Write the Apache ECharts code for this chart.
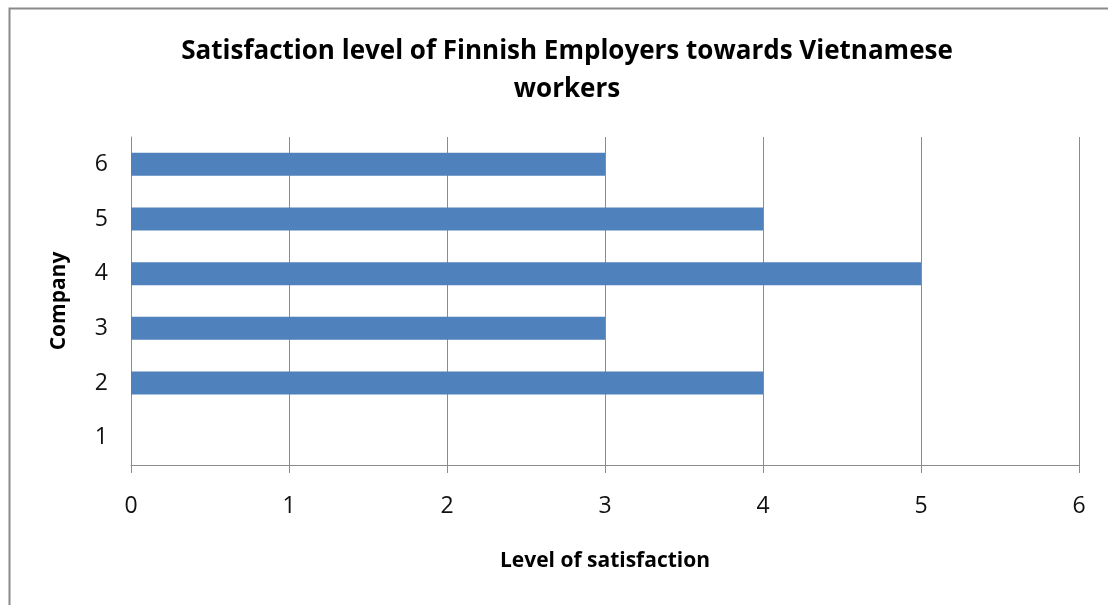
<!DOCTYPE html>
<html>
<head>
<meta charset="utf-8">
<script src="https://cdn.jsdelivr.net/npm/echarts@6/dist/echarts.min.js"></script>
<style>
  html, body { margin: 0; padding: 0; background: #fff; }
  #chart { width: 1108px; height: 605px; }
</style>
</head>
<body>
<div id="chart"></div>
<script>
// Companies surveyed and their satisfaction scores
const companies = ['1', '2', '3', '4', '5', '6'];
const satisfaction = [0, 4, 3, 5, 4, 3];
const levelTicks = [0, 1, 2, 3, 4, 5, 6];

const titleText = 'Satisfaction level of Finnish Employers towards Vietnamese\nworkers';
const fontFamily = '"Open Sans", "Liberation Sans", sans-serif';
const gridColor = '#8c8c8c';

const chart = echarts.init(document.getElementById('chart'), null, { renderer: 'canvas' });

chart.setOption({
  animation: false,
  backgroundColor: '#ffffff',
  textStyle: { fontFamily: fontFamily },
  graphic: [{
    type: 'rect',
    left: 7, top: 6,
    shape: { width: 1130, height: 640 },
    style: { fill: 'none', stroke: '#8a8a8a', lineWidth: 2 },
    silent: true
  }],
  title: {
    text: titleText,
    left: 562,
    top: 28,
    textAlign: 'center',
    textStyle: {
      fontFamily: fontFamily,
      fontSize: 26,
      fontWeight: 'bold',
      color: '#000',
      lineHeight: 38
    }
  },
  grid: { left: 131, right: 29, top: 137, bottom: 140, containLabel: false },
  xAxis: {
    type: 'value',
    min: levelTicks[0],
    max: levelTicks[levelTicks.length - 1],
    interval: 1,
    name: 'Level of satisfaction',
    nameLocation: 'middle',
    nameGap: 86,
    nameTextStyle: { fontSize: 21, fontWeight: 'bold', color: '#000', fontFamily: fontFamily },
    axisLine: { show: true, lineStyle: { color: gridColor, width: 1 } },
    axisTick: { show: true, length: 8, lineStyle: { color: gridColor } },
    axisLabel: { margin: 30, fontSize: 23, color: '#111', fontFamily: fontFamily },
    splitLine: { show: true, lineStyle: { color: gridColor, width: 1 } }
  },
  yAxis: {
    type: 'category',
    data: companies,
    name: 'Company',
    nameLocation: 'middle',
    nameGap: 61,
    nameRotate: 90,
    nameTextStyle: { fontSize: 21, fontWeight: 'bold', color: '#000', fontFamily: fontFamily },
    axisLine: { show: true, lineStyle: { color: gridColor, width: 1 } },
    axisTick: { show: false },
    axisLabel: { margin: 23, fontSize: 23, color: '#111', fontFamily: fontFamily },
    splitLine: { show: false }
  },
  series: [{
    type: 'bar',
    data: satisfaction,
    barWidth: 23,
    itemStyle: { color: '#4f81bd', borderWidth: 0 }
  }]
});
</script>
</body>
</html>
